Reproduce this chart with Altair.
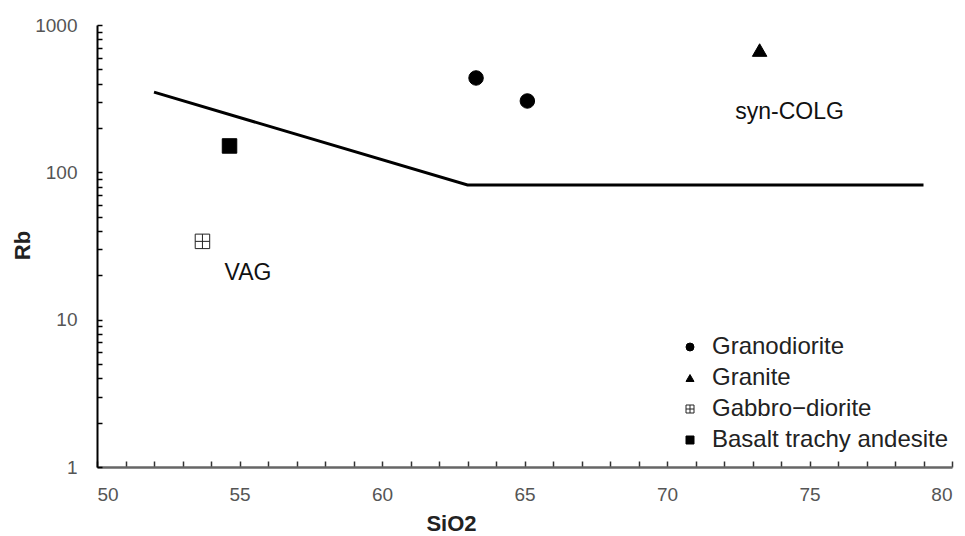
import altair as alt
import pandas as pd

# Data
rock_order = ["Granodiorite", "Granite", "Gabbro−diorite", "Basalt trachy andesite"]
pt_rock = ["Granodiorite", "Granodiorite", "Granite", "Gabbro−diorite", "Basalt trachy andesite"]
pt_sio2 = [63.3, 65.1, 73.25, 53.7, 54.65]
pt_rb = [437, 305, 676, 34, 151]

line_sio2 = [52, 63, 79]
line_rb = [350, 82, 82]

label_text = ["syn-COLG", "VAG"]
label_sio2 = [74.3, 55.3]
label_rb = [256, 20.8]

x_ticks = list(range(50, 81, 5))
x_minor = list(range(50, 81))
y_ticks = [1, 10, 100, 1000]
y_minor = [m * d for d in (1, 10, 100) for m in range(1, 10)] + [1000]

pts = pd.DataFrame({"SiO2": pt_sio2, "Rb": pt_rb, "Rock": pt_rock})
ln = pd.DataFrame({"SiO2": line_sio2, "Rb": line_rb})
lab = pd.DataFrame({"SiO2": label_sio2, "Rb": label_rb, "text": label_text})

FONT = "Liberation Sans"
xscale = alt.Scale(domain=[50, 80], nice=False, zero=False)
yscale = alt.Scale(type="log", domain=[1, 1000], nice=False)

gabbro_path = "M-1,-1H1V1H-1Z M0,-1V1 M-1,0H1"

points = alt.Chart(pts).mark_point(strokeWidth=1, opacity=1, size=210).encode(
    x=alt.X("SiO2:Q", scale=xscale, title="SiO2",
            axis=alt.Axis(orient="bottom", values=x_ticks, ticks=False, grid=False, domainColor="#666666",
                          domainWidth=2.5, labelPadding=18, labelFontSize=19, labelColor="#555555",
                          labelFont=FONT, titleFont=FONT,
                          titleFontSize=22, titleFontWeight="bold", titleColor="#222222",
                          titleX=354, titleY=56, titleBaseline="middle", titleAlign="center")),
    y=alt.Y("Rb:Q", scale=yscale, title="Rb",
            axis=alt.Axis(orient="left", values=y_ticks, ticks=False, grid=False, domainColor="black",
                          domainWidth=2, labelPadding=20, labelFontSize=19, labelColor="#555555",
                          labelFont=FONT, titleFont=FONT, labelExpr="datum.value",
                          titleFontSize=22, titleFontWeight="bold", titleColor="#222222",
                          titleX=-75, titleY=220, titleBaseline="middle", titleAlign="center")),
    shape=alt.Shape("Rock:N", scale=alt.Scale(domain=rock_order,
                    range=["circle", "triangle-up", gabbro_path, "square"]),
                    sort=rock_order, title=None),
    fill=alt.Fill("Rock:N", scale=alt.Scale(domain=rock_order,
                  range=["black", "black", "white", "black"]),
                  sort=rock_order, title=None),
    stroke=alt.Stroke("Rock:N", scale=alt.Scale(domain=rock_order,
                      range=["black", "black", "#222222", "black"]),
                      sort=rock_order, title=None),
)

boundary = alt.Chart(ln).mark_line(color="black", strokeWidth=3).encode(
    x=alt.X("SiO2:Q", scale=xscale,
            axis=alt.Axis(orient="bottom", values=x_minor, labels=False, domain=False, grid=False,
                          tickSize=6, tickColor="#333333", tickWidth=1.5, offset=-6, title=None)),
    y=alt.Y("Rb:Q", scale=yscale,
            axis=alt.Axis(orient="left", values=y_minor, labels=False, domain=False, grid=False,
                          tickSize=5, tickColor="black", tickWidth=1.5, offset=-5, title=None)),
)

texts = alt.Chart(lab).mark_text(fontSize=23, color="#111111", font=FONT).encode(
    x=alt.X("SiO2:Q", scale=xscale, axis=None),
    y=alt.Y("Rb:Q", scale=yscale, axis=None),
    text="text:N",
)

chart = alt.layer(boundary, points, texts).resolve_axis(x="independent", y="independent").properties(
    width=855, height=442,
    padding={"left": 97, "top": 25, "right": 13, "bottom": 69},
    autosize="none",
).configure(font=FONT).configure_view(stroke=None).configure_legend(
    orient="none", legendX=581, legendY=310, padding=0,
    labelFont=FONT, labelFontSize=24, labelColor="#222222", symbolSize=64, labelLimit=400,
    symbolStrokeWidth=1, rowPadding=7, labelOffset=10,
)

chart.save("out.html", embed_options={"renderer": "svg", "actions": False})
